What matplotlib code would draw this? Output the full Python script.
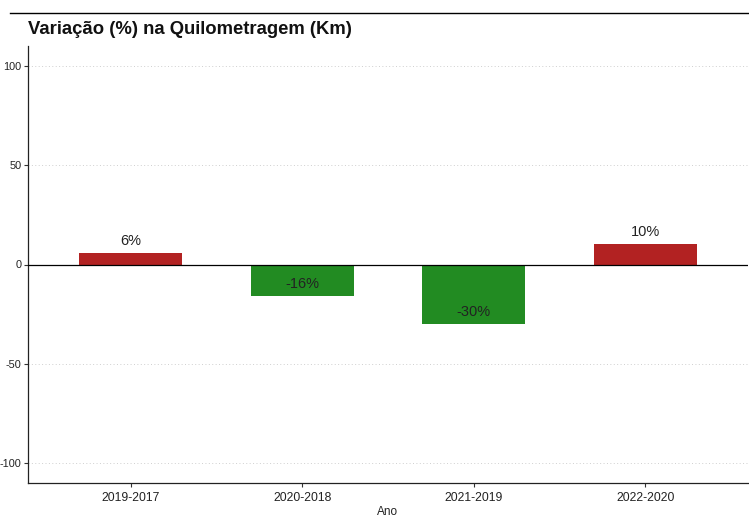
import numpy as np
import matplotlib
matplotlib.use('Agg')
from matplotlib import pyplot as plt
from matplotlib.lines import Line2D

plt.rcParams['font.family'] = ['Liberation Sans', 'DejaVu Sans']

# Dados
anos = ['2019-2017', '2020-2018', '2021-2019', '2022-2020']
variacao = [5.9, -15.9, -29.8, 10.4]
yticks = [-100, -50, 0, 50, 100]

fig = plt.figure(figsize=(7.49, 5.2), dpi=100)
ax = fig.add_axes([28 / 749, 1 - 483 / 520, 720 / 749, (483 - 46) / 520])

x = np.arange(1, len(anos) + 1)
cores = ['#B22222' if v > 0 else '#228B22' for v in variacao]
ax.bar(x, variacao, width=0.6, color=cores, zorder=2)

# rotulos de percentagem
for xi, v in zip(x, variacao):
    ax.text(xi, v + 6, f'{v:.0f}%', ha='center', va='center',
            fontsize=10.5, color='#222222', zorder=3)

ax.axhline(0, color='black', linewidth=0.9, zorder=3)

ax.set_xlim(0.4, 4.6)
ax.set_ylim(-110, 110)
ax.set_xticks(x)
ax.set_xticklabels(anos, fontsize=8.7, color='#222222')
ax.set_yticks(yticks)
ax.set_yticklabels([str(t) for t in yticks], fontsize=7.8, color='#222222')
ax.tick_params(axis='both', length=3.2, width=0.8, color='#333333')
ax.tick_params(axis='x', pad=3)
ax.tick_params(axis='y', pad=1.5)
ax.set_xlabel('Ano', fontsize=8.5, color='#222222', labelpad=2)

for t in yticks:
    if t != 0:
        ax.axhline(t, color='#cfcfcf', linewidth=0.7, linestyle=(0, (1, 2.5)), zorder=1)

for s in ['top', 'right']:
    ax.spines[s].set_visible(False)
for s in ['left', 'bottom']:
    ax.spines[s].set_color('#222222')
    ax.spines[s].set_linewidth(0.9)

fig.text(28 / 749, 1 - 30 / 520, 'Variação (%) na Quilometragem (Km)',
         fontsize=13.3, fontweight='bold', ha='left', va='center', color='#111111')

# linha de borda no topo
fig.add_artist(Line2D([10 / 749, 1], [1 - 13 / 520, 1 - 13 / 520],
                      transform=fig.transFigure, color='black', linewidth=1.0))

fig.savefig('out.png', dpi=100)
